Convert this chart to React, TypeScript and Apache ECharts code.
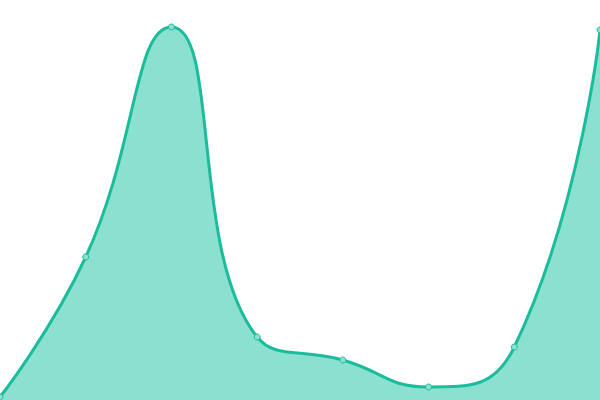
import { useEffect, useRef } from 'react'
import * as echarts from 'echarts'

const categories = ['1', '2', '3', '4', '5', '6', '7', '8']
const values = [3, 143, 373, 63, 40, 13, 53, 370]
const yMin = 0
const yMax = 400

const App = () => {
  const ref = useRef<HTMLDivElement | null>(null)

  useEffect(() => {
    if (!ref.current) return
    const chart = echarts.init(ref.current, null, { renderer: 'svg' })
    chart.setOption({
      animation: false,
      grid: { left: 0, right: 0, top: 0, bottom: 0 },
      xAxis: {
        type: 'category',
        data: categories,
        boundaryGap: false,
        show: false
      },
      yAxis: {
        type: 'value',
        min: yMin,
        max: yMax,
        show: false
      },
      series: [
        {
          type: 'line',
          data: values,
          smooth: true,
          symbol: 'circle',
          symbolSize: 6,
          itemStyle: { color: '#8be0d0', borderColor: '#1abc9c', borderWidth: 1 },
          lineStyle: { width: 3, color: '#1abc9c' },
          areaStyle: { color: '#8be0d0', opacity: 1 }
        }
      ]
    })
    return () => chart.dispose()
  }, [])

  return (
    <div style={{ position: 'fixed', left: 0, top: 0, width: 600, height: 400, background: '#fff' }}>
      <div ref={ref} style={{ width: 600, height: 400 }} />
    </div>
  )
}

export default App
